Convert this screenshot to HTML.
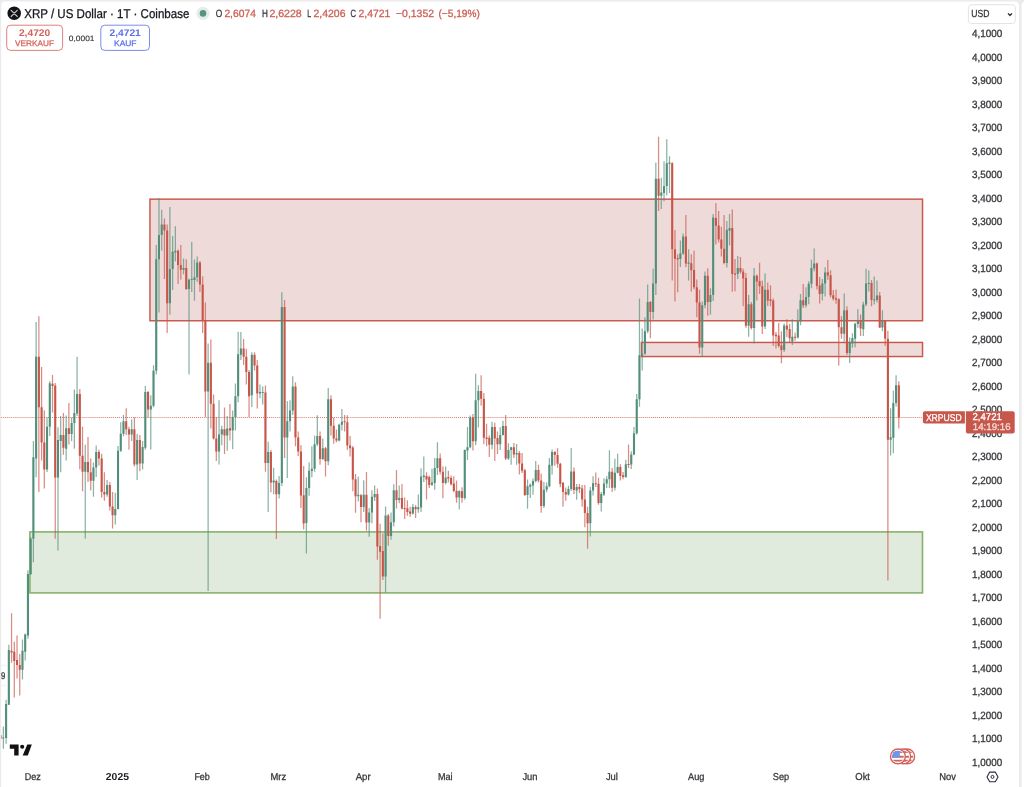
<!DOCTYPE html>
<html lang="de"><head><meta charset="utf-8"><title>XRPUSD</title>
<style>html,body{margin:0;padding:0;background:#ebebeb;overflow:hidden}svg{display:block;will-change:transform;transform:translateZ(0)}text{font-family:"Liberation Sans",sans-serif;text-rendering:geometricPrecision}</style></head><body>
<svg width="1024" height="787" viewBox="0 0 1024 787">
<rect x="0" y="0" width="1024" height="787" fill="#ebebeb"/>
<g opacity="0.999">
<path d="M1.2 800V5.6a4 4 0 0 1 4-4H1015a4 4 0 0 1 4 4V800Z" fill="#fff"/>
<path d="M1021.6 800V5.6a4 4 0 0 1 4-4H1040V800Z" fill="#fff"/>
<rect x="149.95" y="199.15" width="772.6" height="121.6" fill="#EDDAD9" stroke="#C8574B" stroke-width="1.45"/>
<rect x="641.4" y="342.45" width="281.15" height="14.1" fill="#EDDAD9" stroke="#C8574B" stroke-width="1.45"/>
<rect x="29.9" y="531.9" width="892.6" height="61" fill="#E0EBDD" stroke="#87B269" stroke-width="1.6"/>
<line x1="1.2" y1="417.5" x2="922" y2="417.5" stroke="#C8574B" stroke-width="1" stroke-dasharray="1 1.03" opacity="0.8"/>
<clipPath id="pc"><rect x="1.2" y="1.6" width="1017.8" height="800"/></clipPath>
<g shape-rendering="geometricPrecision" clip-path="url(#pc)">
<path d="M3.37 726.4V748.7M6.1 699.8V743.8M8.83 644.7V705M22.48 639.6V679.4M25.21 633.5V660.6M27.94 570.3V638.7M30.67 537V575M33.4 441V562.3M36.13 322.1V477.2M47.05 417.4V472M49.78 381.2V436M57.97 427.2V550.6M60.7 415.9V472.3M66.16 415.5V460.5M71.62 417.4V440.9M74.35 389.4V448.8M77.08 356.8V416M85.27 444.8V538.8M93.46 462.5V496.8M96.19 445.5V477M107.11 480.1V496.8M115.3 492.8V524.5M118.03 445.9V509.5M120.76 422.3V452M123.49 415V436M131.68 419.4V440.9M137.14 433.7V480.1M142.6 441V469.4M145.33 386.1V449.7M150.79 395.3V449.5M153.52 365.2V407.2M156.25 244.9V374.4M158.98 198V312.4M161.71 209.7V250.8M169.9 207.1V314.4M172.63 236.1V289.9M175.36 226.3V261.5M183.55 258.6V274.3M189.01 278.5V374.4M191.74 242V291.9M194.47 259.6V300.7M197.2 256.6V282M208.12 343.5V591.1M219.04 400.2V464.4M221.77 425.7V445.2M227.23 415.9V450.7M232.69 410.4V449.2M235.42 383.6V430.6M238.15 331.7V402.2M240.88 332.1V360.1M251.8 352.3V407.1M259.99 384.6V398.3M262.72 386.5V404.5M268.18 441.7V511.9M273.64 467.8V494.2M279.1 476V498.6M281.83 292.3V486M287.29 401.2V478M290.02 400.2V431.5M292.75 376.2V415M306.4 477.2V553.5M309.13 462.5V495.8M311.86 446.2V477.2M314.59 435.5V471.7M317.32 415.3V446M322.78 438.4V460M328.24 388.1V465.3M339.16 423.7V441.4M341.89 409V430.6M358.27 476.6V501.5M363.73 480.2V511.9M369.19 508V536.7M371.92 490.3V523.3M374.65 485.5V501M385.57 506.6V592.7M391.03 512.4V539.7M393.76 484.3V526.4M399.22 485.4V503.3M412.87 504V514.5M418.33 494.4V512.8M421.06 468.3V512.1M423.79 456.4V482M431.98 468.7V486M434.71 458V489.8M437.44 442.3V475M445.63 466.4V484.4M459.28 490.2V509.4M464.74 449.5V499.7M467.47 427V459.9M470.2 415.5V448.2M475.66 373.8V445.2M478.39 385.2V427.6M492.04 421.8V449.2M500.23 427.2V450.1M502.96 420.8V435.5M508.42 443.3V459.9M511.15 446.8V464.8M516.61 443.9V464.8M527.53 479.5V508.8M530.26 483.4V498.1M532.99 478.5V494.7M535.72 460.9V482.4M543.91 482V507.9M546.64 482.4V492.2M549.37 458V487.3M552.1 449.5V474.6M568.48 485.7V495.5M571.21 448V491M576.67 484.1V499.8M590.32 487.1V536.4M593.05 476.3V495.5M601.24 492V511.5M603.97 478.3V495.9M606.7 476.3V488.1M609.43 450.3V488.1M614.89 458.7V490.4M617.62 453.8V473.4M625.81 459.7V477.9M631.27 451.3V468.9M634 427V455.2M636.73 393.9V434.8M639.46 298.4V406.7M642.19 328.4V370.5M644.92 317.2V354.8M647.65 284.4V333.3M653.11 268.7V319.6M655.84 162.6V295.1M661.3 177.8V209.1M664.03 161.2V201.3M666.76 139.3V195.4M669.49 156.3V192.9M680.41 240.5V267M683.14 233.6V255.1M688.6 249.3V280.4M702.25 301.6V356.2M704.98 271.5V308.2M710.44 288.3V314.7M713.17 214V301M726.82 220.9V267.5M729.55 214V245.4M737.74 256.1V279M748.66 295.1V336.8M754.12 268V343.5M765.04 273.3V329M784.15 323.5V351.9M792.34 319.2V345M797.8 309.3V338.5M800.53 294V325.3M805.99 287.3V307.6M808.72 281.3V304.2M811.45 259.8V288.3M814.18 248.4V271.2M822.37 279.1V300.4M825.1 267.2V296.5M844.21 293.5V341.6M849.67 337.4V362.9M852.4 333.3V347.8M855.13 322.7V347.2M857.86 309.3V327.8M863.32 301.8V336.1M866.05 268.8V306.2M868.78 270.5V291.5M874.24 276.4V304.5M876.97 280.5V302.4M882.43 310.3V331.3M890.62 408.3V455.4M893.35 390.5V453.3M896.08 375.2V406.5" stroke="#528F7A" stroke-width="1.25" opacity="0.68" fill="none"/>
<path d="M0.64 735.3V738.7M11.56 613.3V662.8M14.29 641.7V697.6M17.02 635.6V678.6M19.75 653.9V695.5M38.86 316.2V491.9M41.59 367.1V460.5M44.32 410.2V488.5M52.51 375V412.5M55.24 383V538.8M63.43 413.1V454.7M68.89 403.1V444.5M79.81 389V469.4M82.54 426.8V491.3M88 437V482M90.73 458.6V490.5M98.92 449.8V465.4M101.65 453.7V497.7M104.38 472.3V500.7M109.84 482V510.5M112.57 491.9V528.5M126.22 408.2V435M128.95 426.8V449.8M134.41 417.4V466.4M139.87 435V471.3M148.06 391V417.4M164.44 218.5V279.1M167.17 224.4V333M178.09 249.4V284M180.82 244.9V279.5M186.28 259.2V290M199.93 261.1V291.9M202.66 276.2V333M205.39 302.6V416.9M210.85 339.6V428.6M213.58 394.4V439.5M216.31 416.9V460.9M224.5 407.5V454M229.96 404.1V440.4M243.61 339V365M246.34 348.8V384.6M249.07 370V416.9M254.53 352.3V370.5M257.26 360.1V408.5M265.45 385.6V471.7M270.91 450.1V492.3M276.37 479.5V538.9M284.56 300.1V458M295.48 382.2V446.2M298.21 431.5V456M300.94 445.2V507.9M303.67 465.9V529.5M320.05 431.5V464.8M325.51 447V476.6M330.97 395.3V435.5M333.7 417.8V443.7M336.43 429.6V442.3M344.62 414.9V431.5M347.35 415.3V450.1M350.08 435.9V456.6M352.81 446V491.3M355.54 474.1V512.8M361 494V522.2M366.46 472.1V530.8M377.38 488.5V559.8M380.11 523.7V618.7M382.84 533.4V580M388.3 514V545.8M396.49 470.1V508.6M401.95 484.1V509.5M404.68 497.4V518.9M407.41 500.2V515.8M410.14 506.7V516.8M415.6 505V517.9M426.52 472.2V499.5M429.25 475.6V488M440.17 453.6V474.6M442.9 466.4V498.2M448.36 470.7V482.4M451.09 475.6V485.4M453.82 476.2V492.2M456.55 480.5V502.7M462.01 487.2V502.7M472.93 413.9V450.5M481.12 375.2V405.7M483.85 393V444.3M486.58 423.7V446.2M489.31 435.5V457M494.77 422.7V460.9M497.5 431.5V454M505.69 414.9V459.9M513.88 442.9V458M519.34 451.1V474.6M522.07 453V473M524.8 468.7V496.1M538.45 464.8V482.4M541.18 473.6V512.7M554.83 451.1V465.8M557.56 448.2V467.7M560.29 462.8V487.3M563.02 482V506.8M565.75 487.5V500.7M573.94 467.4V494M579.4 484.1V493M582.13 485.1V506.7M584.86 485.1V527.2M587.59 506.7V548.7M595.78 472.4V487.1M598.51 477.7V504.7M612.16 468.1V492M620.35 464.2V480.6M623.08 472V479.3M628.54 444.6V467.9M650.38 301V338.2M658.57 136.7V211.1M672.22 162.2V280.4M674.95 230.1V301.6M677.68 254.2V292.2M685.87 215V267.3M691.33 254.2V291.6M694.06 250.8V289.2M696.79 279.5V317.2M699.52 289.8V353.8M707.71 268.2V315.7M715.9 202.9V244.4M718.63 211.1V242.4M721.36 226.8V256.5M724.09 215V264.3M732.28 209.5V291.8M735.01 259.1V291.2M740.47 257.1V273.7M743.2 268.8V306.3M745.93 273V327.8M751.39 302V329.4M756.85 274.6V300.4M759.58 262.7V294.1M762.31 280.4V333.9M767.77 282.4V305.9M770.5 285.3V306.3M773.23 298.4V346M775.96 331.9V348.5M778.69 323.1V347.4M781.42 331.3V363.2M786.88 319.2V337.2M789.61 323.9V342.7M795.07 332.4V340.8M803.26 284.1V308M816.91 262.6V289.4M819.64 277.1V303.5M827.83 259.9V279.8M830.56 270.2V297.6M833.29 290.1V300.4M836.02 289.4V303.8M838.75 298.3V365.6M841.48 316.2V338.8M846.94 306.3V354.9M860.59 314.4V336.1M871.51 280.1V306.3M879.7 291.9V328M885.16 320V345.9M887.89 330.8V580.5M898.81 381.2V428.4" stroke="#C8554A" stroke-width="1.25" opacity="0.68" fill="none"/>
<path d="M2.32 737.5H4.42V738.5H2.32ZM5.05 704H7.15V738H5.05ZM7.78 650H9.88V704.7H7.78ZM21.43 650.8H23.53V669.7H21.43ZM24.16 634.6H26.26V651.8H24.16ZM26.89 573.9H28.99V635.5H26.89ZM29.62 538.8H31.72V574H29.62ZM32.35 457.2H34.45V538.8H32.35ZM35.08 356.8H37.18V458.6H35.08ZM46 426.8H48.1V469.4H46ZM48.73 383.2H50.83V426.8H48.73ZM56.92 439.9H59.02V477.6H56.92ZM59.65 435H61.75V440.9H59.65ZM65.11 428.2H67.21V448.8H65.11ZM70.57 422.9H72.67V434H70.57ZM73.3 413.1H75.4V422.9H73.3ZM76.03 393.9H78.13V413.5H76.03ZM84.22 461.9H86.32V471.7H84.22ZM92.41 467.4H94.51V480.7H92.41ZM95.14 452.1H97.24V467.4H95.14ZM106.06 485H108.16V494.4H106.06ZM114.25 508.9H116.35V515.3H114.25ZM116.98 450.8H119.08V508.9H116.98ZM119.71 433.7H121.81V450.8H119.71ZM122.44 421.3H124.54V433.7H122.44ZM130.63 429.2H132.73V434.6H130.63ZM136.09 439.9H138.19V464.5H136.09ZM141.55 447H143.65V463.5H141.55ZM144.28 392H146.38V447.8H144.28ZM149.74 405.7H151.84V409.6H149.74ZM152.47 370.8H154.57V405.7H152.47ZM155.2 259.2H157.3V370.8H155.2ZM157.93 235.1H160.03V259.2H157.93ZM160.66 224.4H162.76V235.1H160.66ZM168.85 269H170.95V303.2H168.85ZM171.58 251.8H173.68V269H171.58ZM174.31 250.8H176.41V252.5H174.31ZM182.5 268H184.6V269.8H182.5ZM187.96 279.7H190.06V288.9H187.96ZM190.69 279H192.79V280H190.69ZM193.42 277.2H195.52V280.1H193.42ZM196.15 262.5H198.25V277.2H196.15ZM207.07 362.7H209.17V391.4H207.07ZM217.99 434.5H220.09V451.5H217.99ZM220.72 429.2H222.82V434.5H220.72ZM226.18 428.6H228.28V435.5H226.18ZM231.64 416.9H233.74V430.6H231.64ZM234.37 396.3H236.47V416.9H234.37ZM237.1 354.2H239.2V396.3H237.1ZM239.83 348.4H241.93V354.8H239.83ZM250.75 354.8H252.85V395.3H250.75ZM258.94 392H261.04V393.4H258.94ZM261.67 391.9H263.77V392.9H261.67ZM267.13 452.1H269.23V462.9H267.13ZM272.59 480.5H274.69V482.5H272.59ZM278.05 483.1H280.15V494.2H278.05ZM280.78 306.9H282.88V483.1H280.78ZM286.24 421.2H288.34V437.4H286.24ZM288.97 410.4H291.07V421.2H288.97ZM291.7 386.5H293.8V410.4H291.7ZM305.35 488H307.45V523H305.35ZM308.08 470.7H310.18V488H308.08ZM310.81 468.7H312.91V471H310.81ZM313.54 444.3H315.64V468.8H313.54ZM316.27 435.9H318.37V444.3H316.27ZM321.73 448.2H323.83V458.9H321.73ZM327.19 399.3H329.29V461.3H327.19ZM338.11 424.7H340.21V440.4H338.11ZM340.84 421.8H342.94V424.7H340.84ZM357.22 494.8H359.32V496.2H357.22ZM362.68 494.8H364.78V507H362.68ZM368.14 512.4H370.24V522.6H368.14ZM370.87 496.8H372.97V512.6H370.87ZM373.6 494H375.7V497.3H373.6ZM384.52 515.6H386.62V576.4H384.52ZM389.98 522.2H392.08V535.9H389.98ZM392.71 490.2H394.81V522.2H392.71ZM398.17 497.9H400.27V499.9H398.17ZM411.82 507H413.92V513.4H411.82ZM417.28 507.2H419.38V509.2H417.28ZM420.01 476.5H422.11V507.6H420.01ZM422.74 475.6H424.84V476.9H422.74ZM430.93 482.4H433.03V484.8H430.93ZM433.66 468.1H435.76V483H433.66ZM436.39 458.3H438.49V468.1H436.39ZM444.58 477.5H446.68V483H444.58ZM458.23 491H460.33V497.5H458.23ZM463.69 450.1H465.79V498H463.69ZM466.42 447.2H468.52V450.5H466.42ZM469.15 417.4H471.25V447.2H469.15ZM474.61 400.2H476.71V441.3H474.61ZM477.34 391H479.44V400.2H477.34ZM490.99 427H493.09V444.7H490.99ZM499.18 434.9H501.28V444.3H499.18ZM501.91 426.1H504.01V434.9H501.91ZM507.37 450.1H509.47V458.5H507.37ZM510.1 447.2H512.2V450.1H510.1ZM515.56 453H517.66V454.6H515.56ZM526.48 486.3H528.58V495.1H526.48ZM529.21 484.8H531.31V486.7H529.21ZM531.94 480.9H534.04V485.4H531.94ZM534.67 470.1H536.77V480.9H534.67ZM542.86 489.7H544.96V505.9H542.86ZM545.59 486.3H547.69V489.7H545.59ZM548.32 464.8H550.42V486.3H548.32ZM551.05 452.1H553.15V465.4H551.05ZM567.43 488.9H569.53V494.6H567.43ZM570.16 471.5H572.26V488.9H570.16ZM575.62 487.1H577.72V490.4H575.62ZM589.27 490.4H591.37V523.3H589.27ZM592 483.2H594.1V490.4H592ZM600.19 493.9H602.29V503.1H600.19ZM602.92 483.6H605.02V494.5H602.92ZM605.65 479.3H607.75V483.6H605.65ZM608.38 471.8H610.48V479.3H608.38ZM613.84 472.8H615.94V487.7H613.84ZM616.57 467.1H618.67V472.8H616.57ZM624.76 464.2H626.86V476.9H624.76ZM630.22 454.4H632.32V464.6H630.22ZM632.95 433.3H635.05V454.4H632.95ZM635.68 399.2H637.78V433.3H635.68ZM638.41 355.2H640.51V399.2H638.41ZM641.14 353.8H643.24V355.8H641.14ZM643.87 331.3H645.97V353.8H643.87ZM646.6 302H648.7V331.3H646.6ZM652.06 283.4H654.16V312.1H652.06ZM654.79 178.8H656.89V283.4H654.79ZM660.25 192.5H662.35V195.8H660.25ZM662.98 186.1H665.08V192.9H662.98ZM665.71 163.2H667.81V186.1H665.71ZM668.44 162.5H670.54V163.7H668.44ZM679.36 253.2H681.46V259H679.36ZM682.09 236.5H684.19V253.6H682.09ZM687.55 262.4H689.65V263.8H687.55ZM701.2 305.3H703.3V347.4H701.2ZM703.93 275.8H706.03V305.3H703.93ZM709.39 295.1H711.49V302H709.39ZM712.12 217.4H714.22V295.1H712.12ZM725.77 229.7H727.87V263H725.77ZM728.5 228.1H730.6V230.7H728.5ZM736.69 267.9H738.79V274.1H736.69ZM747.61 304.3H749.71V325.8H747.61ZM753.07 275.8H755.17V328H753.07ZM763.99 289.8H766.09V326.4H763.99ZM783.1 325.5H785.2V349.9H783.1ZM791.29 336.8H793.39V341.6H791.29ZM796.75 321.2H798.85V337.5H796.75ZM799.48 300.2H801.58V321.6H799.48ZM804.94 297H807.04V305.2H804.94ZM807.67 283.8H809.77V297H807.67ZM810.4 268.1H812.5V283.8H810.4ZM813.13 263.6H815.23V268.6H813.13ZM821.32 283.6H823.42V293.8H821.32ZM824.05 272.5H826.15V283.6H824.05ZM843.16 310.3H845.26V333.7H843.16ZM848.62 342.3H850.72V353.1H848.62ZM851.35 338.1H853.45V343.4H851.35ZM854.08 323.7H856.18V338.8H854.08ZM856.81 321H858.91V324H856.81ZM862.27 304.5H864.37V329.2H862.27ZM865 283.6H867.1V304.5H865ZM867.73 282.95H869.83V283.95H867.73ZM873.19 299.4H875.29V300.4H873.19ZM875.92 295.6H878.02V300.1H875.92ZM881.38 321H883.48V327.4H881.38ZM889.57 437.3H891.67V439.8H889.57ZM892.3 403H894.4V437.7H892.3ZM895.03 385.2H897.13V403H895.03Z" fill="#528F7A"/>
<path d="M-0.41 735.3H1.69V738.7H-0.41ZM10.51 650.7H12.61V652.6H10.51ZM13.24 651.8H15.34V661H13.24ZM15.97 660H18.07V665H15.97ZM18.7 665H20.8V669.7H18.7ZM37.81 356.8H39.91V407.2H37.81ZM40.54 407.2H42.64V442.5H40.54ZM43.27 442.5H45.37V469.4H43.27ZM51.46 383.8H53.56V386.1H51.46ZM54.19 385.5H56.29V477.6H54.19ZM62.38 435H64.48V447.8H62.38ZM67.84 428.2H69.94V434H67.84ZM78.76 393.9H80.86V455.7H78.76ZM81.49 455.7H83.59V471.7H81.49ZM86.95 461.9H89.05V472.3H86.95ZM89.68 472.3H91.78V480.7H89.68ZM97.87 452.1H99.97V458.6H97.87ZM100.6 458.6H102.7V491.9H100.6ZM103.33 491.9H105.43V494.4H103.33ZM108.79 485H110.89V506.5H108.79ZM111.52 506.5H113.62V515.3H111.52ZM125.17 421.3H127.27V429.2H125.17ZM127.9 429.2H130V434.6H127.9ZM133.36 429.2H135.46V464.5H133.36ZM138.82 439.9H140.92V463.5H138.82ZM147.01 392H149.11V409.6H147.01ZM163.39 224.4H165.49V230.6H163.39ZM166.12 230.6H168.22V303.2H166.12ZM177.04 250.8H179.14V265.1H177.04ZM179.77 265.1H181.87V269.8H179.77ZM185.23 268H187.33V288.9H185.23ZM198.88 262.5H200.98V284.6H198.88ZM201.61 284.6H203.71V320.2H201.61ZM204.34 320.2H206.44V391.4H204.34ZM209.8 362.7H211.9V403.8H209.8ZM212.53 403.8H214.63V438.4H212.53ZM215.26 438.4H217.36V451.5H215.26ZM223.45 429.2H225.55V435.5H223.45ZM228.91 428.2H231.01V430.6H228.91ZM242.56 348.4H244.66V356.8H242.56ZM245.29 356.8H247.39V371.9H245.29ZM248.02 371.9H250.12V396.3H248.02ZM253.48 354.8H255.58V365.4H253.48ZM256.21 365.4H258.31V393.4H256.21ZM264.4 392.4H266.5V462.9H264.4ZM269.86 452.1H271.96V482.5H269.86ZM275.32 481.1H277.42V494.2H275.32ZM283.51 306.9H285.61V437.4H283.51ZM294.43 386.5H296.53V437.4H294.43ZM297.16 437.4H299.26V451.5H297.16ZM299.89 451.5H301.99V495.6H299.89ZM302.62 495.2H304.72V523.6H302.62ZM319 435.9H321.1V458.9H319ZM324.46 448.2H326.56V461.3H324.46ZM329.92 399.3H332.02V425.7H329.92ZM332.65 425.7H334.75V438.4H332.65ZM335.38 438.4H337.48V440.4H335.38ZM343.57 421.3H345.67V422.3H343.57ZM346.3 422.2H348.4V445.6H346.3ZM349.03 445.6H351.13V448.2H349.03ZM351.76 447.6H353.86V479.6H351.76ZM354.49 479.2H356.59V496.2H354.49ZM359.95 495.2H362.05V507H359.95ZM365.41 494.8H367.51V522.6H365.41ZM376.33 494H378.43V546.5H376.33ZM379.06 546.1H381.16V551.7H379.06ZM381.79 551.1H383.89V576.5H381.79ZM387.25 515.6H389.35V535.9H387.25ZM395.44 490.2H397.54V499.9H395.44ZM400.9 497.9H403V508.5H400.9ZM403.63 507.9H405.73V508.9H403.63ZM406.36 508.3H408.46V512.1H406.36ZM409.09 511.5H411.19V513.7H409.09ZM414.55 507H416.65V509.2H414.55ZM425.47 476H427.57V479.5H425.47ZM428.2 476.9H430.3V485H428.2ZM439.12 458.3H441.22V471.7H439.12ZM441.85 471.7H443.95V483H441.85ZM447.31 476.9H449.41V478.5H447.31ZM450.04 478.1H452.14V484.2H450.04ZM452.77 483.4H454.87V491H452.77ZM455.5 491H457.6V497.5H455.5ZM460.96 491.2H463.06V498H460.96ZM471.88 417.4H473.98V441.3H471.88ZM480.07 391H482.17V398.7H480.07ZM482.8 398.7H484.9V437.8H482.8ZM485.53 437.4H487.63V439H485.53ZM488.26 437.8H490.36V444.7H488.26ZM493.72 427H495.82V438.4H493.72ZM496.45 438H498.55V444.3H496.45ZM504.64 426.1H506.74V458.5H504.64ZM512.83 447.2H514.93V454.6H512.83ZM518.29 453H520.39V463.4H518.29ZM521.02 463.4H523.12V470.7H521.02ZM523.75 470.3H525.85V495.1H523.75ZM537.4 470.1H539.5V480.5H537.4ZM540.13 480.5H542.23V505.9H540.13ZM553.78 452.1H555.88V455H553.78ZM556.51 455H558.61V463.8H556.51ZM559.24 463.7H561.34V484H559.24ZM561.97 482.8H564.07V492.1H561.97ZM564.7 492.1H566.8V494.6H564.7ZM572.89 471.5H574.99V490.1H572.89ZM578.35 487.1H580.45V489H578.35ZM581.08 488.6H583.18V499.4H581.08ZM583.81 499.4H585.91V512.9H583.81ZM586.54 512.9H588.64V523.3H586.54ZM594.73 483.15H596.83V484.15H594.73ZM597.46 483.8H599.56V503.1H597.46ZM611.11 471.8H613.21V487.7H611.11ZM619.3 467.1H621.4V475.9H619.3ZM622.03 475.3H624.13V476.9H622.03ZM627.49 464H629.59V465H627.49ZM649.33 302H651.43V312.1H649.33ZM657.52 178.8H659.62V195.8H657.52ZM671.17 163.2H673.27V249.3H671.17ZM673.9 249.3H676V258.7H673.9ZM676.63 258.1H678.73V259.3H676.63ZM684.82 236.5H686.92V263.4H684.82ZM690.28 263.2H692.38V270.3H690.28ZM693.01 270H695.11V287.3H693.01ZM695.74 287.3H697.84V302.4H695.74ZM698.47 302.4H700.57V347.4H698.47ZM706.66 275.8H708.76V302H706.66ZM714.85 218H716.95V225.8H714.85ZM717.58 225.4H719.68V239.5H717.58ZM720.31 239.5H722.41V248.7H720.31ZM723.04 248.7H725.14V263H723.04ZM731.23 228.1H733.33V274.1H731.23ZM733.96 273.6H736.06V274.8H733.96ZM739.42 267.9H741.52V271.7H739.42ZM742.15 271.5H744.25V278.5H742.15ZM744.88 278.1H746.98V325.8H744.88ZM750.34 304.3H752.44V328H750.34ZM755.8 275.8H757.9V281.4H755.8ZM758.53 281H760.63V286.3H758.53ZM761.26 286.3H763.36V326.4H761.26ZM766.72 289.8H768.82V300.4H766.72ZM769.45 299.6H771.55V301H769.45ZM772.18 300.4H774.28V335.6H772.18ZM774.91 334.8H777.01V336.2H774.91ZM777.64 335.6H779.74V346H777.64ZM780.37 345.4H782.47V349.9H780.37ZM785.83 325.5H787.93V329.4H785.83ZM788.56 329H790.66V338.2H788.56ZM794.02 336.75H796.12V337.75H794.02ZM802.21 300.2H804.31V305.5H802.21ZM815.86 263.6H817.96V286H815.86ZM818.59 285.6H820.69V294H818.59ZM826.78 272.3H828.88V275.4H826.78ZM829.51 275.3H831.61V295.3H829.51ZM832.24 295.3H834.34V298.7H832.24ZM834.97 298.3H837.07V299.7H834.97ZM837.7 299.3H839.8V327.2H837.7ZM840.43 327.2H842.53V333.7H840.43ZM845.89 310.3H847.99V353.1H845.89ZM859.54 321H861.64V328.5H859.54ZM870.46 283H872.56V300.1H870.46ZM878.65 295.6H880.75V327.4H878.65ZM884.11 321H886.21V338.8H884.11ZM886.84 338.8H888.94V439.8H886.84ZM897.76 385.2H899.86V417.5H897.76Z" fill="#C8554A"/>
</g>
<text x="972.1" y="37.25" font-size="10.5" fill="#36373c" textLength="30.2" lengthAdjust="spacingAndGlyphs" stroke="#36373c" stroke-width="0.3">4,1000</text>
<text x="972.1" y="60.75" font-size="10.5" fill="#36373c" textLength="30.2" lengthAdjust="spacingAndGlyphs" stroke="#36373c" stroke-width="0.3">4,0000</text>
<text x="972.1" y="84.25" font-size="10.5" fill="#36373c" textLength="30.2" lengthAdjust="spacingAndGlyphs" stroke="#36373c" stroke-width="0.3">3,9000</text>
<text x="972.1" y="107.75" font-size="10.5" fill="#36373c" textLength="30.2" lengthAdjust="spacingAndGlyphs" stroke="#36373c" stroke-width="0.3">3,8000</text>
<text x="972.1" y="131.25" font-size="10.5" fill="#36373c" textLength="30.2" lengthAdjust="spacingAndGlyphs" stroke="#36373c" stroke-width="0.3">3,7000</text>
<text x="972.1" y="154.75" font-size="10.5" fill="#36373c" textLength="30.2" lengthAdjust="spacingAndGlyphs" stroke="#36373c" stroke-width="0.3">3,6000</text>
<text x="972.1" y="178.25" font-size="10.5" fill="#36373c" textLength="30.2" lengthAdjust="spacingAndGlyphs" stroke="#36373c" stroke-width="0.3">3,5000</text>
<text x="972.1" y="201.75" font-size="10.5" fill="#36373c" textLength="30.2" lengthAdjust="spacingAndGlyphs" stroke="#36373c" stroke-width="0.3">3,4000</text>
<text x="972.1" y="225.25" font-size="10.5" fill="#36373c" textLength="30.2" lengthAdjust="spacingAndGlyphs" stroke="#36373c" stroke-width="0.3">3,3000</text>
<text x="972.1" y="248.75" font-size="10.5" fill="#36373c" textLength="30.2" lengthAdjust="spacingAndGlyphs" stroke="#36373c" stroke-width="0.3">3,2000</text>
<text x="972.1" y="272.25" font-size="10.5" fill="#36373c" textLength="30.2" lengthAdjust="spacingAndGlyphs" stroke="#36373c" stroke-width="0.3">3,1000</text>
<text x="972.1" y="295.75" font-size="10.5" fill="#36373c" textLength="30.2" lengthAdjust="spacingAndGlyphs" stroke="#36373c" stroke-width="0.3">3,0000</text>
<text x="972.1" y="319.25" font-size="10.5" fill="#36373c" textLength="30.2" lengthAdjust="spacingAndGlyphs" stroke="#36373c" stroke-width="0.3">2,9000</text>
<text x="972.1" y="342.75" font-size="10.5" fill="#36373c" textLength="30.2" lengthAdjust="spacingAndGlyphs" stroke="#36373c" stroke-width="0.3">2,8000</text>
<text x="972.1" y="366.25" font-size="10.5" fill="#36373c" textLength="30.2" lengthAdjust="spacingAndGlyphs" stroke="#36373c" stroke-width="0.3">2,7000</text>
<text x="972.1" y="389.75" font-size="10.5" fill="#36373c" textLength="30.2" lengthAdjust="spacingAndGlyphs" stroke="#36373c" stroke-width="0.3">2,6000</text>
<text x="972.1" y="413.25" font-size="10.5" fill="#36373c" textLength="30.2" lengthAdjust="spacingAndGlyphs" stroke="#36373c" stroke-width="0.3">2,5000</text>
<text x="972.1" y="436.75" font-size="10.5" fill="#36373c" textLength="30.2" lengthAdjust="spacingAndGlyphs" stroke="#36373c" stroke-width="0.3">2,4000</text>
<text x="972.1" y="460.25" font-size="10.5" fill="#36373c" textLength="30.2" lengthAdjust="spacingAndGlyphs" stroke="#36373c" stroke-width="0.3">2,3000</text>
<text x="972.1" y="483.75" font-size="10.5" fill="#36373c" textLength="30.2" lengthAdjust="spacingAndGlyphs" stroke="#36373c" stroke-width="0.3">2,2000</text>
<text x="972.1" y="507.25" font-size="10.5" fill="#36373c" textLength="30.2" lengthAdjust="spacingAndGlyphs" stroke="#36373c" stroke-width="0.3">2,1000</text>
<text x="972.1" y="530.75" font-size="10.5" fill="#36373c" textLength="30.2" lengthAdjust="spacingAndGlyphs" stroke="#36373c" stroke-width="0.3">2,0000</text>
<text x="972.1" y="554.25" font-size="10.5" fill="#36373c" textLength="30.2" lengthAdjust="spacingAndGlyphs" stroke="#36373c" stroke-width="0.3">1,9000</text>
<text x="972.1" y="577.75" font-size="10.5" fill="#36373c" textLength="30.2" lengthAdjust="spacingAndGlyphs" stroke="#36373c" stroke-width="0.3">1,8000</text>
<text x="972.1" y="601.25" font-size="10.5" fill="#36373c" textLength="30.2" lengthAdjust="spacingAndGlyphs" stroke="#36373c" stroke-width="0.3">1,7000</text>
<text x="972.1" y="624.75" font-size="10.5" fill="#36373c" textLength="30.2" lengthAdjust="spacingAndGlyphs" stroke="#36373c" stroke-width="0.3">1,6000</text>
<text x="972.1" y="648.25" font-size="10.5" fill="#36373c" textLength="30.2" lengthAdjust="spacingAndGlyphs" stroke="#36373c" stroke-width="0.3">1,5000</text>
<text x="972.1" y="671.75" font-size="10.5" fill="#36373c" textLength="30.2" lengthAdjust="spacingAndGlyphs" stroke="#36373c" stroke-width="0.3">1,4000</text>
<text x="972.1" y="695.25" font-size="10.5" fill="#36373c" textLength="30.2" lengthAdjust="spacingAndGlyphs" stroke="#36373c" stroke-width="0.3">1,3000</text>
<text x="972.1" y="718.75" font-size="10.5" fill="#36373c" textLength="30.2" lengthAdjust="spacingAndGlyphs" stroke="#36373c" stroke-width="0.3">1,2000</text>
<text x="972.1" y="742.25" font-size="10.5" fill="#36373c" textLength="30.2" lengthAdjust="spacingAndGlyphs" stroke="#36373c" stroke-width="0.3">1,1000</text>
<text x="972.1" y="765.75" font-size="10.5" fill="#36373c" textLength="30.2" lengthAdjust="spacingAndGlyphs" stroke="#36373c" stroke-width="0.3">1,0000</text>
<path d="M924.9 411.3H964.9V423.6H924.9a2 2 0 0 1-2-2V413.3a2 2 0 0 1 2-2Z" fill="#C8574B"/>
<text x="925.9" y="420.7" font-size="9.9" fill="#fff" textLength="35.8" lengthAdjust="spacingAndGlyphs" stroke="#fff" stroke-width="0.3">XRPUSD</text>
<path d="M965.9 411.3H1012.7a2 2 0 0 1 2 2V431.6a2 2 0 0 1-2 2H967.9a2 2 0 0 1-2-2Z" fill="#C8574B"/>
<text x="972.5" y="420.2" font-size="10" fill="#fff" textLength="29.3" lengthAdjust="spacingAndGlyphs" stroke="#fff" stroke-width="0.3">2,4721</text>
<text x="972.8" y="430.4" font-size="9.8" fill="#fff" textLength="37.8" lengthAdjust="spacingAndGlyphs" opacity="0.78" stroke="#fff" stroke-width="0.3">14:19:16</text>
<rect x="968.4" y="4.7" width="46.9" height="18.8" rx="3" fill="#fff" stroke="#e4e4e4" stroke-width="1"/>
<text x="971.2" y="17.1" font-size="10.3" fill="#36373c" textLength="18.2" lengthAdjust="spacingAndGlyphs" stroke="#36373c" stroke-width="0.3">USD</text>
<path d="M1008.35 13.8l1.65 1.65 1.65-1.65" fill="none" stroke="#33363f" stroke-width="1.3" stroke-linecap="round" stroke-linejoin="round"/>
<circle cx="14.2" cy="13.3" r="6.75" fill="#121317"/>
<path d="M11.1 10.25C12.6 11.9 13.3 12.75 14.2 12.75S15.8 11.9 17.3 10.25M11.15 16.6C12.6 14.9 13.3 13.9 14.2 13.9S15.8 14.9 17.25 16.6" fill="none" stroke="#d6d6d6" stroke-width="1.05" stroke-linecap="round"/>
<text x="24.2" y="17.7" font-size="12.8" fill="#17191f" textLength="165.2" lengthAdjust="spacingAndGlyphs" stroke="#17191f" stroke-width="0.3">XRP / US Dollar · 1T · Coinbase</text>
<circle cx="203" cy="13.4" r="6.6" fill="#e3eeea"/>
<circle cx="203" cy="13.4" r="3.3" fill="#5a9480"/>
<text x="215.8" y="17" font-size="10.5" fill="#36373c" textLength="6.5" lengthAdjust="spacingAndGlyphs" stroke="#36373c" stroke-width="0.3">O</text>
<text x="224.4" y="17" font-size="10.5" fill="#CD5F54" textLength="31.5" lengthAdjust="spacingAndGlyphs" stroke="#CD5F54" stroke-width="0.3">2,6074</text>
<text x="261.9" y="17" font-size="10.5" fill="#36373c" textLength="5.9" lengthAdjust="spacingAndGlyphs" stroke="#36373c" stroke-width="0.3">H</text>
<text x="269.4" y="17" font-size="10.5" fill="#CD5F54" textLength="32.3" lengthAdjust="spacingAndGlyphs" stroke="#CD5F54" stroke-width="0.3">2,6228</text>
<text x="307.2" y="17" font-size="10.5" fill="#36373c" textLength="3.9" lengthAdjust="spacingAndGlyphs" stroke="#36373c" stroke-width="0.3">L</text>
<text x="313.4" y="17" font-size="10.5" fill="#CD5F54" textLength="32.1" lengthAdjust="spacingAndGlyphs" stroke="#CD5F54" stroke-width="0.3">2,4206</text>
<text x="350.5" y="17" font-size="10.5" fill="#36373c" textLength="5.5" lengthAdjust="spacingAndGlyphs" stroke="#36373c" stroke-width="0.3">C</text>
<text x="358.5" y="17" font-size="10.5" fill="#CD5F54" textLength="31.8" lengthAdjust="spacingAndGlyphs" stroke="#CD5F54" stroke-width="0.3">2,4721</text>
<text x="396" y="17" font-size="10.5" fill="#CD5F54" textLength="38" lengthAdjust="spacingAndGlyphs" stroke="#CD5F54" stroke-width="0.3">−0,1352</text>
<text x="438.5" y="17" font-size="10.5" fill="#CD5F54" textLength="41.3" lengthAdjust="spacingAndGlyphs" stroke="#CD5F54" stroke-width="0.3">(−5,19%)</text>
<rect x="6.7" y="25.2" width="55.9" height="25.2" rx="4" fill="#fff" stroke="#D4625A" stroke-width="1" stroke-opacity="0.8"/>
<text x="18.9" y="35.7" font-size="9.6" fill="#D4625A" textLength="31.4" lengthAdjust="spacingAndGlyphs" font-weight="bold">2,4720</text>
<text x="15.1" y="46" font-size="8.1" fill="#D4625A" textLength="39" lengthAdjust="spacingAndGlyphs" stroke="#D4625A" stroke-width="0.25">VERKAUF</text>
<text x="68.8" y="41.2" font-size="7.8" fill="#36373c" textLength="25.7" lengthAdjust="spacingAndGlyphs" stroke="#36373c" stroke-width="0.12">0,0001</text>
<rect x="100.8" y="25.2" width="48.7" height="25.2" rx="4" fill="#fff" stroke="#5B6FE6" stroke-width="1" stroke-opacity="0.8"/>
<text x="109.5" y="35.7" font-size="9.6" fill="#5B6FE6" textLength="31.3" lengthAdjust="spacingAndGlyphs" font-weight="bold">2,4721</text>
<text x="114" y="46" font-size="8.1" fill="#5B6FE6" textLength="22.5" lengthAdjust="spacingAndGlyphs" stroke="#5B6FE6" stroke-width="0.25">KAUF</text>
<path d="M1.2 665.2H6.2M1.2 685.3H6.2" stroke="#eeeeee" stroke-width="1" fill="none"/>
<text x="1" y="678.8" font-size="9.8" fill="#36373c" textLength="4.3" lengthAdjust="spacingAndGlyphs" stroke="#36373c" stroke-width="0.3">9</text>
<path d="M9.8 744.5H18.6V755.5H14.2V748.7H9.8Z" fill="#111"/>
<circle cx="22.2" cy="746.7" r="2.05" fill="#111"/>
<path d="M27.3 744.5H31.8L27.8 755.5H22.7Z" fill="#111"/>
<defs><clipPath id="fc"><circle cx="0" cy="0" r="6"/></clipPath><g id="fl"><circle cx="0" cy="0" r="7.4" fill="#fff" stroke="#D4625A" stroke-width="1.4"/><g clip-path="url(#fc)"><rect x="-6" y="-6" width="12" height="12" fill="#fff"/><rect x="-6" y="-5.2" width="12" height="1.7" fill="#D4625A"/><rect x="-6" y="-0.6" width="12" height="1.9" fill="#D4625A"/><rect x="-6" y="3.4" width="12" height="1.8" fill="#D4625A"/><rect x="-6" y="-6" width="8" height="7.3" fill="#6E96EB"/></g></g></defs>
<use href="#fl" x="907.2" y="756.4"/><use href="#fl" x="903.3" y="756.4"/><use href="#fl" x="897.9" y="756.4"/>
<text x="24.7" y="780.3" font-size="10" fill="#36373c" textLength="16" lengthAdjust="spacingAndGlyphs" stroke="#36373c" stroke-width="0.3">Dez</text>
<text x="105.8" y="780.3" font-size="10" fill="#1c1e24" textLength="23.2" lengthAdjust="spacingAndGlyphs" font-weight="bold">2025</text>
<text x="194.4" y="780.3" font-size="10" fill="#36373c" textLength="15.4" lengthAdjust="spacingAndGlyphs" stroke="#36373c" stroke-width="0.3">Feb</text>
<text x="270.5" y="780.3" font-size="10" fill="#36373c" textLength="15.7" lengthAdjust="spacingAndGlyphs" stroke="#36373c" stroke-width="0.3">Mrz</text>
<text x="355.7" y="780.3" font-size="10" fill="#36373c" textLength="15" lengthAdjust="spacingAndGlyphs" stroke="#36373c" stroke-width="0.3">Apr</text>
<text x="437.9" y="780.3" font-size="10" fill="#36373c" textLength="14.7" lengthAdjust="spacingAndGlyphs" stroke="#36373c" stroke-width="0.3">Mai</text>
<text x="522.4" y="780.3" font-size="10" fill="#36373c" textLength="15" lengthAdjust="spacingAndGlyphs" stroke="#36373c" stroke-width="0.3">Jun</text>
<text x="605.9" y="780.3" font-size="10" fill="#36373c" textLength="12" lengthAdjust="spacingAndGlyphs" stroke="#36373c" stroke-width="0.3">Jul</text>
<text x="688" y="780.3" font-size="10" fill="#36373c" textLength="16.4" lengthAdjust="spacingAndGlyphs" stroke="#36373c" stroke-width="0.3">Aug</text>
<text x="772.8" y="780.3" font-size="10" fill="#36373c" textLength="16.4" lengthAdjust="spacingAndGlyphs" stroke="#36373c" stroke-width="0.3">Sep</text>
<text x="855.3" y="780.3" font-size="10" fill="#36373c" textLength="14.7" lengthAdjust="spacingAndGlyphs" stroke="#36373c" stroke-width="0.3">Okt</text>
<text x="939.2" y="780.3" font-size="10" fill="#36373c" textLength="16.7" lengthAdjust="spacingAndGlyphs" stroke="#36373c" stroke-width="0.3">Nov</text>
<path d="M987 776.9L989.7 772.1H995.3L998 776.9L995.3 781.7H989.7Z" fill="none" stroke="#2a2e39" stroke-width="1.1" stroke-linejoin="round"/>
<circle cx="992.5" cy="776.9" r="1.5" fill="none" stroke="#2a2e39" stroke-width="1"/>
</g></svg></body></html>
